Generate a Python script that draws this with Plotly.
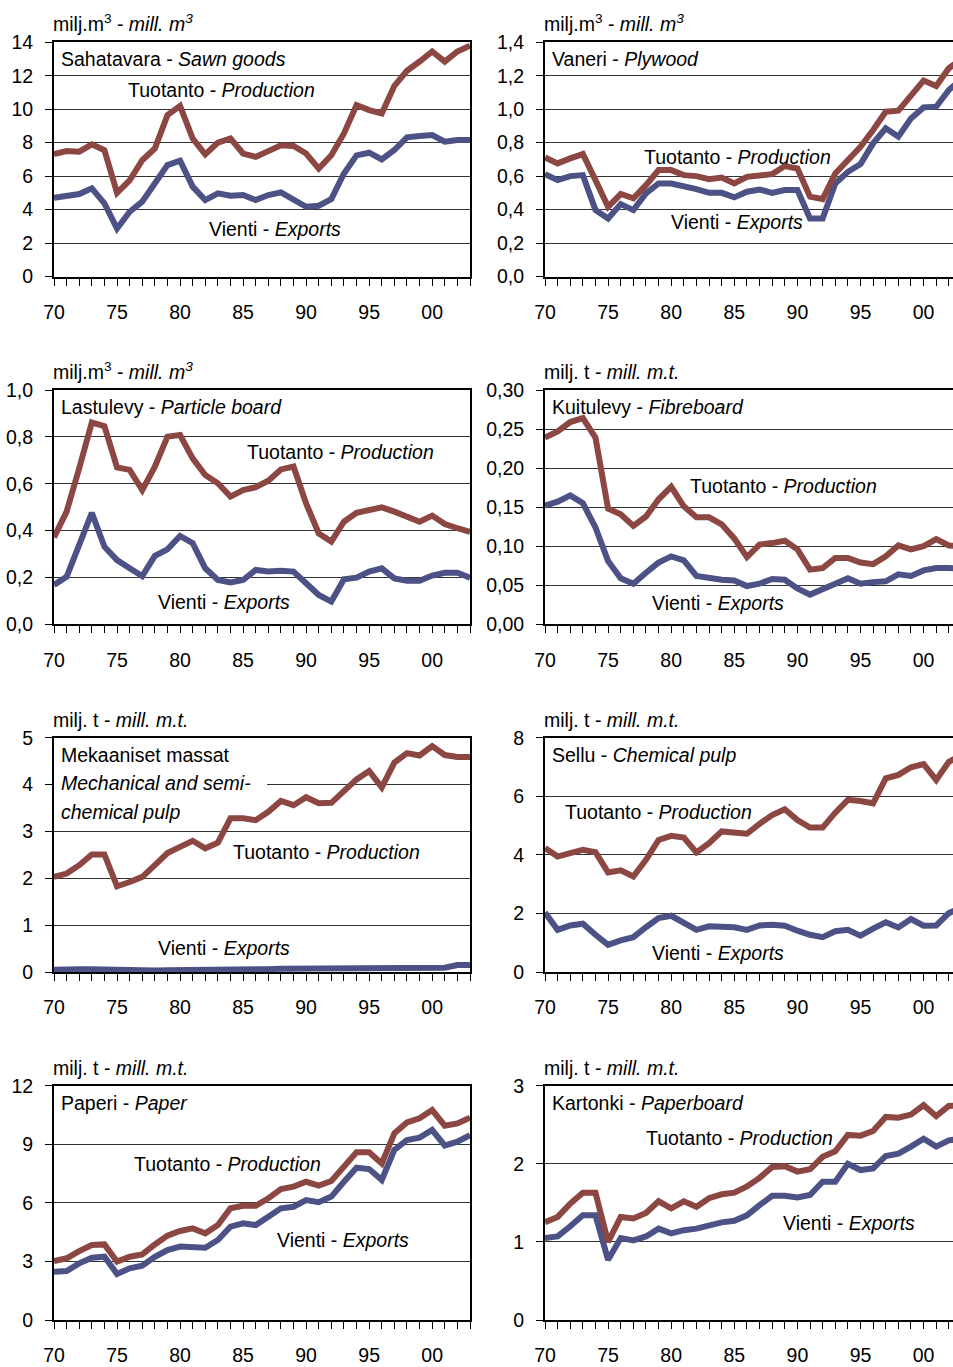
import plotly.graph_objects as go

years = list(range(1970, 2004))

# Sawn goods (mill. m3)
sawn_prod = [7.32, 7.5, 7.46, 7.9, 7.55, 5.0, 5.75, 6.95, 7.65, 9.65, 10.2, 8.25, 7.3, 8.0, 8.25, 7.35, 7.15,
             7.55, 7.85, 7.8, 7.35, 6.45, 7.25, 8.55, 10.25, 9.95, 9.75, 11.4, 12.3, 12.85, 13.45, 12.85, 13.45, 13.8]
sawn_exp = [4.7, 4.77, 4.93, 5.27, 4.37, 2.87, 3.87, 4.47, 5.56, 6.66, 6.92, 5.37, 4.57, 4.97, 4.83, 4.87, 4.57,
            4.87, 5.03, 4.57, 4.17, 4.23, 4.63, 6.16, 7.24, 7.4, 7.0, 7.56, 8.32, 8.4, 8.46, 8.06, 8.16, 8.16]

# Plywood (mill. m3)
ply_prod = [0.712, 0.676, 0.706, 0.732, 0.576, 0.417, 0.493, 0.467, 0.546, 0.636, 0.636, 0.606, 0.600, 0.582,
            0.592, 0.556, 0.596, 0.606, 0.612, 0.660, 0.646, 0.477, 0.463, 0.616, 0.696, 0.776, 0.876, 0.985,
            0.991, 1.075, 1.171, 1.139, 1.245, 1.30]
ply_exp = [0.612, 0.576, 0.600, 0.606, 0.397, 0.347, 0.433, 0.397, 0.497, 0.556, 0.556, 0.542, 0.522, 0.500,
           0.500, 0.473, 0.507, 0.520, 0.500, 0.517, 0.517, 0.347, 0.347, 0.556, 0.626, 0.672, 0.796, 0.886,
           0.836, 0.945, 1.011, 1.015, 1.115, 1.18]

# Particle board (mill. m3)
part_prod = [0.371, 0.481, 0.666, 0.861, 0.846, 0.670, 0.659, 0.573, 0.673, 0.801, 0.808, 0.708, 0.637, 0.602,
             0.545, 0.573, 0.585, 0.613, 0.661, 0.673, 0.516, 0.388, 0.353, 0.438, 0.476, 0.485, 0.499, 0.481,
             0.459, 0.438, 0.464, 0.428, 0.410, 0.395]
part_exp = [0.168, 0.203, 0.339, 0.476, 0.331, 0.274, 0.239, 0.206, 0.292, 0.320, 0.377, 0.346, 0.239, 0.189,
            0.179, 0.189, 0.232, 0.225, 0.229, 0.225, 0.175, 0.125, 0.097, 0.192, 0.199, 0.225, 0.239, 0.196,
            0.186, 0.186, 0.208, 0.220, 0.220, 0.199]

# Fibreboard (mill. m.t.)
fibre_prod = [0.239, 0.247, 0.259, 0.264, 0.239, 0.148, 0.141, 0.126, 0.138, 0.160, 0.176, 0.151, 0.137, 0.137,
              0.128, 0.110, 0.086, 0.102, 0.104, 0.107, 0.096, 0.070, 0.072, 0.085, 0.085, 0.079, 0.077, 0.087,
              0.101, 0.096, 0.100, 0.109, 0.101, 0.100]
fibre_exp = [0.152, 0.157, 0.165, 0.155, 0.124, 0.081, 0.059, 0.052, 0.066, 0.079, 0.087, 0.082, 0.062, 0.059,
             0.057, 0.056, 0.049, 0.052, 0.058, 0.057, 0.046, 0.038, 0.044, 0.052, 0.059, 0.052, 0.054, 0.055,
             0.064, 0.062, 0.069, 0.072, 0.072, 0.071]

# Mechanical and semi-chemical pulp (mill. m.t.)
mech_prod = [2.03, 2.10, 2.28, 2.51, 2.51, 1.83, 1.92, 2.03, 2.28, 2.54, 2.67, 2.80, 2.64, 2.76, 3.28, 3.28, 3.24,
             3.42, 3.65, 3.56, 3.73, 3.60, 3.61, 3.88, 4.11, 4.29, 3.94, 4.47, 4.67, 4.62, 4.82, 4.63, 4.59, 4.59]
mech_exp = [0.05, 0.04, 0.06, 0.06, 0.05, 0.04, 0.04, 0.03, 0.03, 0.04, 0.04, 0.04, 0.04, 0.04, 0.03, 0.03, 0.04,
            0.06, 0.07, 0.07, 0.06, 0.07, 0.08, 0.08, 0.07, 0.07, 0.07, 0.08, 0.08, 0.09, 0.09, 0.09, 0.15, 0.15]

# Chemical pulp (mill. m.t.)
chem_prod = [4.23, 3.94, 4.06, 4.17, 4.09, 3.40, 3.47, 3.26, 3.83, 4.51, 4.65, 4.59, 4.08, 4.40, 4.80, 4.74, 4.72,
             5.06, 5.36, 5.56, 5.19, 4.93, 4.93, 5.44, 5.88, 5.84, 5.76, 6.61, 6.73, 6.99, 7.10, 6.56, 7.18, 7.40]
chem_exp = [2.03, 1.44, 1.59, 1.65, 1.27, 0.93, 1.08, 1.19, 1.53, 1.84, 1.92, 1.65, 1.44, 1.56, 1.56, 1.53, 1.44,
            1.59, 1.61, 1.58, 1.41, 1.27, 1.19, 1.39, 1.44, 1.24, 1.48, 1.70, 1.52, 1.81, 1.58, 1.59, 2.01, 2.20]

# Paper (mill. m.t.)
paper_prod = [3.02, 3.16, 3.53, 3.84, 3.87, 2.99, 3.24, 3.36, 3.87, 4.32, 4.56, 4.69, 4.44, 4.86, 5.72, 5.85, 5.85,
              6.23, 6.71, 6.83, 7.08, 6.88, 7.12, 7.85, 8.59, 8.59, 8.02, 9.56, 10.12, 10.33, 10.75, 9.95, 10.07, 10.36]
paper_exp = [2.47, 2.51, 2.90, 3.19, 3.24, 2.36, 2.65, 2.78, 3.24, 3.58, 3.76, 3.76, 3.70, 4.10, 4.78, 4.95, 4.86,
             5.29, 5.72, 5.80, 6.14, 6.03, 6.32, 7.08, 7.80, 7.73, 7.17, 8.71, 9.22, 9.34, 9.73, 8.93, 9.13, 9.47]

# Paperboard (mill. m.t.)
board_prod = [1.25, 1.32, 1.49, 1.63, 1.63, 1.00, 1.32, 1.30, 1.37, 1.52, 1.43, 1.52, 1.45, 1.56, 1.61, 1.63, 1.71,
              1.82, 1.96, 1.97, 1.90, 1.93, 2.09, 2.16, 2.37, 2.36, 2.42, 2.60, 2.59, 2.63, 2.75, 2.61, 2.74, 2.75]
board_exp = [1.05, 1.07, 1.20, 1.34, 1.34, 0.77, 1.05, 1.02, 1.07, 1.17, 1.11, 1.15, 1.17, 1.22, 1.25, 1.27, 1.34,
             1.47, 1.59, 1.59, 1.57, 1.60, 1.77, 1.77, 2.00, 1.92, 1.94, 2.10, 2.13, 2.22, 2.32, 2.22, 2.30, 2.32]

x_tickvals = [1970, 1975, 1980, 1985, 1990, 1995, 2000]
x_ticktext = ["70", "75", "80", "85", "90", "95", "00"]

UNIT_M3 = "milj.m<sup>3</sup> - <i>mill. m<sup>3</sup></i>"
UNIT_T = "milj. t - <i>mill. m.t.</i>"
PROD_LABEL = "Tuotanto - <i>Production</i>"
EXP_LABEL = "Vienti - <i>Exports</i>"

# panel: title lines, unit, prod, exp, ymax, dtick, fmt, prod label pos, exp label pos
panels = [
    (["Sahatavara - <i>Sawn goods</i>"], UNIT_M3, sawn_prod, sawn_exp, 14, 2, "d", (1983.25, 11.14), (1987.5, 2.86)),
    (["Vaneri - <i>Plywood</i>"], UNIT_M3, ply_prod, ply_exp, 1.4, 0.2, ".1f", (1985.25, 0.714), (1985.25, 0.325)),
    (["Lastulevy - <i>Particle board</i>"], UNIT_M3, part_prod, part_exp, 1.0, 0.2, ".1f", (1992.73, 0.735), (1983.45, 0.095)),
    (["Kuitulevy - <i>Fibreboard</i>"], UNIT_T, fibre_prod, fibre_exp, 0.30, 0.05, ".2f", (1988.9, 0.177), (1983.67, 0.027)),
    (["Mekaaniset massat", "<i>Mechanical and semi-</i>", "<i>chemical pulp</i>"], UNIT_T, mech_prod, mech_exp, 5, 1, "d", (1991.6, 2.56), (1983.45, 0.51)),
    (["Sellu - <i>Chemical pulp</i>"], UNIT_T, chem_prod, chem_exp, 8, 2, "d", (1979.03, 5.46), (1983.67, 0.65)),
    (["Paperi - <i>Paper</i>"], UNIT_T, paper_prod, paper_exp, 12, 3, "d", (1983.76, 7.99), (1992.89, 4.10)),
    (["Kartonki - <i>Paperboard</i>"], UNIT_T, board_prod, board_exp, 3, 1, "d", (1985.41, 2.33), (1994.09, 1.24)),
]

W, H = 953, 1367
row_px = [(42.3, 276.5), (390.0, 624.3), (737.7, 972.0), (1085.7, 1320.0)]
col_px = [(54.0, 470.0), (545.0, 953.0)]

FONT = "Liberation Sans, Arial, sans-serif"
FS = 19.5
PROD_COLOR = "#8C4743"
EXP_COLOR = "#4C5285"
LW = 6

fig = go.Figure()
annotations = []
shapes = []
for i, (title_lines, unit, prod, exp, ymax, dtick, fmt, ppos, epos) in enumerate(panels):
    r, c = divmod(i, 2)
    n = i + 1
    xa = "x" if n == 1 else f"x{n}"
    ya = "y" if n == 1 else f"y{n}"
    top, bot = row_px[r]
    x0, x1 = col_px[c]
    ydom = [1 - bot / H, 1 - top / H]
    xdom = [x0 / W, x1 / W]
    xrange = [1970, 2003] if c == 0 else [1970, 1970 + (953 - 545) / 12.62]

    fig.add_trace(go.Scatter(x=years, y=exp, mode="lines", line=dict(color=EXP_COLOR, width=LW),
                             xaxis=xa, yaxis=ya, showlegend=False, hoverinfo="skip"))
    fig.add_trace(go.Scatter(x=years, y=prod, mode="lines", line=dict(color=PROD_COLOR, width=LW),
                             xaxis=xa, yaxis=ya, showlegend=False, hoverinfo="skip"))

    xkey = "xaxis" if n == 1 else f"xaxis{n}"
    ykey = "yaxis" if n == 1 else f"yaxis{n}"
    fig.update_layout(**{
        xkey: dict(domain=xdom, anchor=ya, range=xrange, tickvals=x_tickvals, ticktext=x_ticktext,
                   automargin=False,
                   showgrid=False, zeroline=False, showline=True, linecolor="black", linewidth=2,
                   mirror=True, ticks="outside", ticklen=7, tickwidth=1, tickcolor="black",
                   minor=dict(dtick=1, tick0=1970, ticks="outside", ticklen=7, tickwidth=1, tickcolor="black", showgrid=False),
                   ticklabelstandoff=10,
                   tickfont=dict(family=FONT, size=FS, color="black"), fixedrange=True),
        ykey: dict(domain=ydom, anchor=xa, range=[0, ymax], dtick=dtick, tick0=0, tickformat=fmt,
                   automargin=False,
                   showgrid=True, gridcolor="#333333", gridwidth=1, zeroline=False,
                   showline=True, linecolor="black", linewidth=2, mirror=(c == 0),
                   ticks="outside", ticklen=7, tickwidth=1, tickcolor="black",
                   ticklabelstandoff=8,
                   tickfont=dict(family=FONT, size=FS, color="black"), fixedrange=True),
    })

    # unit label above plot
    annotations.append(dict(text=unit, xref="paper", yref="paper", x=xdom[0], y=ydom[1],
                            xanchor="left", yanchor="bottom", xshift=-3, yshift=5, showarrow=False,
                            font=dict(family=FONT, size=FS, color="black")))
    # panel title (one annotation per line)
    for k, line in enumerate(title_lines):
        annotations.append(dict(text=line, xref=f"{xa} domain", yref=f"{ya} domain", x=0, y=1,
                                xanchor="left", yanchor="top", xshift=5, yshift=-4 - 28.5 * k,
                                showarrow=False, align="left",
                                font=dict(family=FONT, size=FS, color="black")))
    annotations.append(dict(text=PROD_LABEL, xref=xa, yref=ya, x=ppos[0], y=ppos[1],
                            xanchor="center", yanchor="middle", showarrow=False,
                            font=dict(family=FONT, size=FS, color="black")))
    annotations.append(dict(text=EXP_LABEL, xref=xa, yref=ya, x=epos[0], y=epos[1],
                            xanchor="center", yanchor="middle", showarrow=False,
                            font=dict(family=FONT, size=FS, color="black")))
    if i == 4:
        shapes.append(dict(type="rect", xref=xa, yref=ya, x0=1970, x1=1986.9, y0=3.3, y1=4.7,
                           fillcolor="white", line=dict(width=0), layer="between"))

fig.update_layout(template="none", width=W, height=H, margin=dict(l=0, r=0, t=0, b=0, pad=0),
                  paper_bgcolor="white", plot_bgcolor="white", separators=", ",
                  annotations=annotations, shapes=shapes, showlegend=False,
                  font=dict(family=FONT, size=FS, color="black"))

fig.write_html("out.html", config=dict(displayModeBar=False, staticPlot=True),
               post_script="document.body.style.margin='0px';document.body.style.overflow='hidden';")
